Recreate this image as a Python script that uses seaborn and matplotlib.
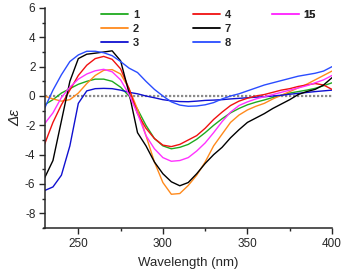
import numpy as np
import pandas as pd
import matplotlib
matplotlib.use("Agg")
import matplotlib.pyplot as plt
import seaborn as sns
from matplotlib.ticker import MultipleLocator

wavelength = list(range(230, 401, 5))

cd_1 = [-0.6, -0.25, 0.2, 0.5, 0.8, 1.0, 1.15, 1.15, 1.0, 0.6, 0.0, -0.9, -2.0, -2.9, -3.4,
        -3.6, -3.5, -3.3, -2.95, -2.5, -2.0, -1.55, -1.15, -0.85, -0.6, -0.42, -0.27, -0.1,
        0.05, 0.2, 0.3, 0.4, 0.52, 0.7, 0.9]
cd_2 = [0.0, -0.2, -0.35, -0.25, 0.2, 0.85, 1.4, 1.75, 1.8, 1.5, 0.5, -0.9, -2.7, -4.5, -5.9,
        -6.7, -6.65, -6.1, -5.4, -4.5, -3.4, -2.6, -1.8, -1.3, -0.95, -0.7, -0.5, -0.2,
        0.05, 0.3, 0.55, 0.8, 1.1, 1.4, 1.7]
cd_3 = [-6.45, -6.2, -5.4, -3.4, -0.5, 0.35, 0.5, 0.52, 0.5, 0.4, 0.25, 0.15, 0.0, -0.12, -0.25,
        -0.33, -0.38, -0.39, -0.35, -0.3, -0.28, -0.25, -0.2, -0.16, -0.12, -0.08, -0.05, 0.0,
        0.05, 0.12, 0.18, 0.24, 0.3, 0.35, 0.4]
cd_4 = [-3.3, -1.8, -0.6, 0.4, 1.4, 2.1, 2.55, 2.7, 2.5, 1.85, 0.5, -1.2, -2.2, -2.9, -3.35,
        -3.45, -3.3, -3.0, -2.7, -2.2, -1.6, -1.1, -0.65, -0.35, -0.15, 0.0, 0.1, 0.25,
        0.4, 0.5, 0.65, 0.75, 0.85, 0.75, 0.45]
cd_7 = [-5.6, -4.4, -1.7, 1.0, 2.55, 2.85, 2.92, 3.0, 3.08, 2.4, 0.2, -2.5, -3.4, -4.5, -5.3,
        -5.85, -6.12, -5.9, -5.3, -4.6, -4.0, -3.5, -2.85, -2.3, -1.8, -1.5, -1.2, -0.85,
        -0.55, -0.25, 0.1, 0.3, 0.45, 0.75, 1.25]
cd_8 = [-0.85, 0.4, 1.45, 2.35, 2.8, 3.05, 3.05, 2.95, 2.75, 2.35, 1.9, 1.6, 1.0, 0.45, 0.0,
        -0.4, -0.62, -0.7, -0.68, -0.6, -0.45, -0.2, 0.0, 0.15, 0.35, 0.55, 0.75, 0.9,
        1.05, 1.2, 1.35, 1.45, 1.55, 1.7, 2.0]
cd_15 = [-1.9, -1.15, -0.1, 0.6, 1.15, 1.5, 1.72, 1.82, 1.65, 1.1, 0.1, -1.2, -2.7, -3.6, -4.2,
         -4.45, -4.4, -4.2, -3.75, -3.2, -2.5, -1.75, -1.1, -0.65, -0.4, -0.2, -0.05, 0.1,
         0.25, 0.4, 0.55, 0.7, 0.9, 1.1, 1.4]

labels = ["1", "2", "3", "4", "7", "8", "15"]
series = [cd_1, cd_2, cd_3, cd_4, cd_7, cd_8, cd_15]
colors = ["#1faa1f", "#ff8a1c", "#1010d0", "#f01010", "#000000", "#2a4cff", "#ff33ff"]

df = pd.DataFrame({
    "Wavelength": np.tile(wavelength, len(labels)),
    "CD": np.concatenate(series),
    "Compound": np.repeat(labels, len(wavelength)),
})

sns.set_style("ticks")
plt.rcParams["font.family"] = ["Liberation Sans", "DejaVu Sans"]
plt.rcParams["axes.unicode_minus"] = False

fig = plt.figure(figsize=(3.43, 2.73), dpi=100)
ax = fig.add_axes([44.5 / 343, 1 - 228 / 273, 287.5 / 343, 220 / 273])

sns.lineplot(data=df, x="Wavelength", y="CD", hue="Compound", hue_order=labels,
             palette=dict(zip(labels, colors)), linewidth=1.0, ax=ax, legend=True)
ax.axhline(0, color="#8a8a8a", linestyle=(0, (1, 0.8)), linewidth=1.6, zorder=0)

ax.set_xlim(230, 400)
ax.set_ylim(-9, 6)
ax.xaxis.set_major_locator(MultipleLocator(50))
ax.xaxis.set_minor_locator(MultipleLocator(25))
ax.yaxis.set_major_locator(MultipleLocator(2))
ax.yaxis.set_minor_locator(MultipleLocator(1))
ax.tick_params(which="major", direction="out", length=4, width=1, labelsize=8.5, pad=2.5)
ax.tick_params(axis="x", which="major", pad=3.5)
ax.tick_params(which="minor", direction="out", length=2, width=1)
sns.despine(ax=ax)
for sp in ["left", "bottom"]:
    ax.spines[sp].set_linewidth(1.1)
ax.set_xlabel("Wavelength (nm)", fontsize=9.5, labelpad=5)
ax.set_ylabel("Δε", fontsize=11, style="italic", labelpad=2)

handles, labs = ax.get_legend_handles_labels()
ax.get_legend().remove()
hmap = dict(zip(labs, handles))
groups = [(["1", "2", "3"], 0.197), (["4", "7", "8"], 0.517), (["15"], 0.791)]
for names, xpos in groups:
    leg = ax.legend([hmap[n] for n in names], names, loc="upper left",
                    bbox_to_anchor=(xpos, 0.99), frameon=False, borderpad=0,
                    borderaxespad=0, handlelength=2.4, handletextpad=0.45,
                    labelspacing=0.35, prop={"weight": "bold", "size": 8})
    for ln in leg.get_lines():
        ln.set_linewidth(1.3)
    ax.add_artist(leg)

fig.savefig("out.png", dpi=100)
